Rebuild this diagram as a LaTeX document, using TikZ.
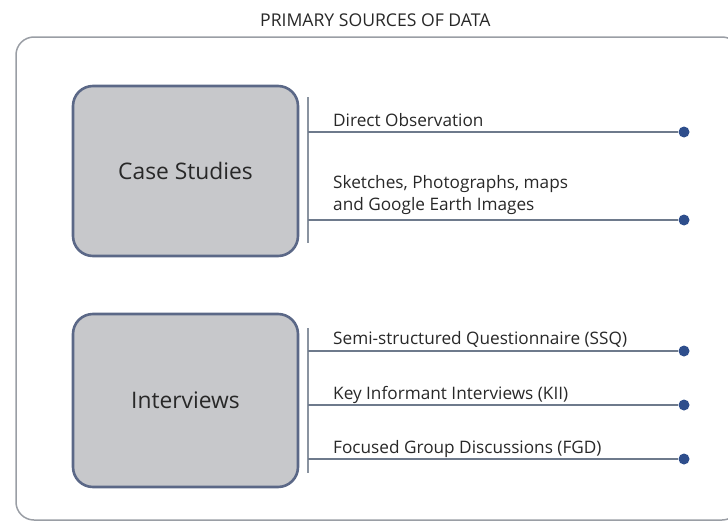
\documentclass[tikz,border=0pt]{standalone}
\usepackage{fontspec}
\setmainfont{Open Sans}
\definecolor{boxfill}{HTML}{C7C8CB}
\definecolor{boxedge}{HTML}{5B6887}
\definecolor{linecol}{HTML}{6E7A8C}
\definecolor{barcol}{HTML}{8A93A0}
\definecolor{dotcol}{HTML}{2E4E8C}
\definecolor{txt}{HTML}{282828}
\definecolor{frame}{HTML}{9A9EA5}
\begin{document}
\begin{tikzpicture}[x=1pt,y=-1pt,
  mainbox/.style={draw=boxedge,line width=2.6pt,fill=boxfill,rounded corners=20pt,
    minimum width=225pt,minimum height=170pt,inner sep=0pt,text=txt,font=\fontsize{22.8}{26}\selectfont},
  bar/.style={draw=barcol,line width=1.4pt},
  branch/.style={draw=linecol,line width=2.2pt},
  enddot/.style={circle,fill=dotcol,inner sep=0pt,minimum size=11pt},
  lbl/.style={anchor=base west,inner sep=0pt,text=txt,font=\fontsize{17.2}{21.5}\selectfont,align=left}]
\useasboundingbox (0,0) rectangle (728,522);
% outer frame
\draw[frame,line width=1.5pt,rounded corners=18pt] (16,37) rectangle (740,520);
\node[anchor=base west,inner sep=0pt,text=txt,font=\fontsize{17.6}{20}\selectfont] (title) at (260,27) {PRIMARY SOURCES OF DATA};
% boxes
\node[mainbox] (cs) at (185.5,171) {Case Studies};
\node[mainbox,minimum height=173pt] (iv) at (185.5,400.5) {Interviews};
% case studies bar
\coordinate (cst) at (308,97);
\coordinate (csb) at (308,243);
\draw[bar] (cst) -- (csb);
\coordinate (c1) at (308,132);
\coordinate (c2) at (308,220);
\node[enddot] (d1) at (684,132) {};
\node[enddot] (d2) at (684,220) {};
\draw[branch] (c1) -- (d1);
\draw[branch] (c2) -- (d2);
\node[lbl] (t1) at (333,126) {Direct Observation};
\node[lbl] (t2) at (333,210) {Sketches, Photographs, maps\\and Google Earth Images};
% interviews bar
\coordinate (ivt) at (308,328);
\coordinate (ivb) at (308,473);
\draw[bar] (ivt) -- (ivb);
\coordinate (i1) at (308,351);
\coordinate (i2) at (308,405);
\coordinate (i3) at (308,459);
\node[enddot] (e1) at (684,351) {};
\node[enddot] (e2) at (684,405) {};
\node[enddot] (e3) at (684,459) {};
\draw[branch] (i1) -- (e1);
\draw[branch] (i2) -- (e2);
\draw[branch] (i3) -- (e3);
\node[lbl] (s1) at (333,344) {Semi-structured Questionnaire (SSQ)};
\node[lbl] (s2) at (333,399) {Key Informant Interviews (KII)};
\node[lbl] (s3) at (333,453) {Focused Group Discussions (FGD)};
\end{tikzpicture}
\end{document}
